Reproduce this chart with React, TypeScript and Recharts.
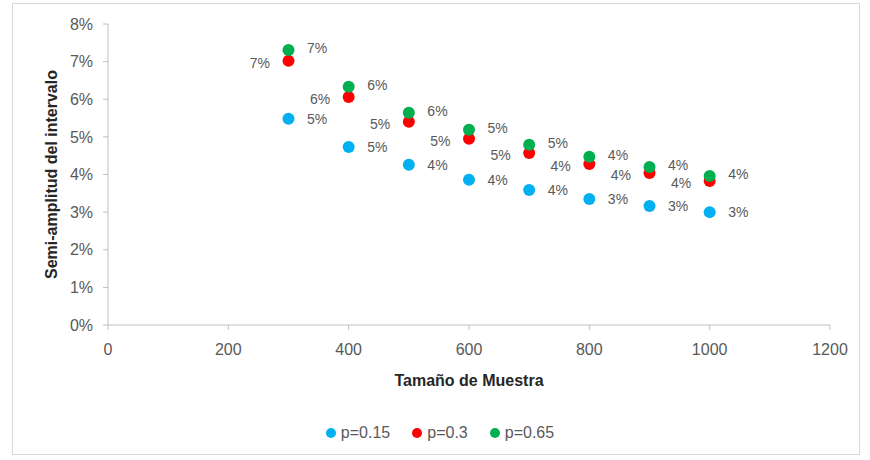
import React from "react";
import { ScatterChart, Scatter, XAxis, YAxis, Legend, LabelList, Label } from "recharts";

const sizes = [300, 400, 500, 600, 700, 800, 900, 1000];
const p015 = [0.0548, 0.0473, 0.0426, 0.0386, 0.0359, 0.0335, 0.0316, 0.03];
const p03 = [0.0702, 0.0606, 0.054, 0.0495, 0.0457, 0.0428, 0.0404, 0.0383];
const p065 = [0.0731, 0.0633, 0.0564, 0.0519, 0.0479, 0.0447, 0.042, 0.0396];
const xTicks = [0, 200, 400, 600, 800, 1000, 1200];
const yTicks = [0, 0.01, 0.02, 0.03, 0.04, 0.05, 0.06, 0.07, 0.08];

const toPoints = (vals: number[]) => sizes.map((x, i) => ({ x, y: vals[i] }));

const series = [
  { name: "p=0.15", data: toPoints(p015), color: "#00B0F0", labelPos: "right", dy: 0 },
  { name: "p=0.3", data: toPoints(p03), color: "#FF0000", labelPos: "left", dy: 2 },
  { name: "p=0.65", data: toPoints(p065), color: "#00B050", labelPos: "right", dy: -2 },
];

const FONT = "'Liberation Sans', Arial, sans-serif";
const FS = 16;
const pct = (v: any) => `${Math.round(Number(v) * 100)}%`;

function dot(color: string) {
  return (props: any) => <circle cx={props.cx} cy={props.cy} r={6} fill={color} />;
}

function LegendContent(props: any) {
  const items = props.payload || [];
  return (
    <div style={{ display: "flex", justifyContent: "center", fontFamily: FONT, fontSize: FS, color: "#595959" }}>
      {items.map((it: any) => (
        <div key={it.value} style={{ display: "flex", alignItems: "center", marginRight: 22 }}>
          <svg width={10} height={10} style={{ marginRight: 5 }}>
            <circle cx={5} cy={5} r={5} fill={it.color} />
          </svg>
          <span>{it.value}</span>
        </div>
      ))}
    </div>
  );
}

export default function App() {
  return (
    <div
      style={{
        position: "fixed",
        left: 0,
        top: 0,
        width: 870,
        height: 460,
        background: "#fff",
        fontFamily: FONT,
      }}
    >
      <div
        style={{
          position: "absolute",
          left: 12,
          top: 3,
          width: 846,
          height: 450,
          border: "1px solid #d9d9d9",
        }}
      />
      <ScatterChart
        width={870}
        height={460}
        margin={{ top: 24, right: 40, left: 48, bottom: 16 }}
        style={{ position: "absolute", left: 0, top: 0 }}
      >
        <XAxis
          type="number"
          dataKey="x"
          domain={[0, 1200]}
          ticks={xTicks}
          height={99}
          tickSize={5}
          tickMargin={14}
          stroke="#bfbfbf"
          tick={{ fontSize: FS, fill: "#595959", fontFamily: FONT }}
        >
          <Label
            value="Tamaño de Muestra"
            position="insideTop"
            offset={50}
            style={{ fontSize: FS, fontWeight: "bold", fill: "#262626", fontFamily: FONT }}
          />
        </XAxis>
        <YAxis
          type="number"
          dataKey="y"
          domain={[0, 0.08]}
          ticks={yTicks}
          tickFormatter={pct}
          width={60}
          tickSize={5}
          tickMargin={10}
          stroke="#bfbfbf"
          tick={{ fontSize: FS, fill: "#595959", fontFamily: FONT }}
        >
          <Label
            value="Semi-amplitud del intervalo"
            angle={-90}
            position="insideLeft"
            offset={3}
            style={{ fontSize: FS, fontWeight: "bold", fill: "#262626", fontFamily: FONT, textAnchor: "middle" }}
          />
        </YAxis>
        <Legend
          verticalAlign="bottom"
          align="center"
          content={<LegendContent />}
          wrapperStyle={{ left: 16, width: 870, height: 20 }}
        />
        {series.map((s) => (
          <Scatter
            key={s.name}
            name={s.name}
            data={s.data}
            fill={s.color}
            shape={dot(s.color)}
            isAnimationActive={false}
          >
            <LabelList
              dataKey="y"
              position={s.labelPos as any}
              offset={14}
              dy={s.dy}
              formatter={pct}
              style={{ fontSize: 14, fill: "#595959", fontFamily: FONT }}
            />
          </Scatter>
        ))}
      </ScatterChart>
    </div>
  );
}
